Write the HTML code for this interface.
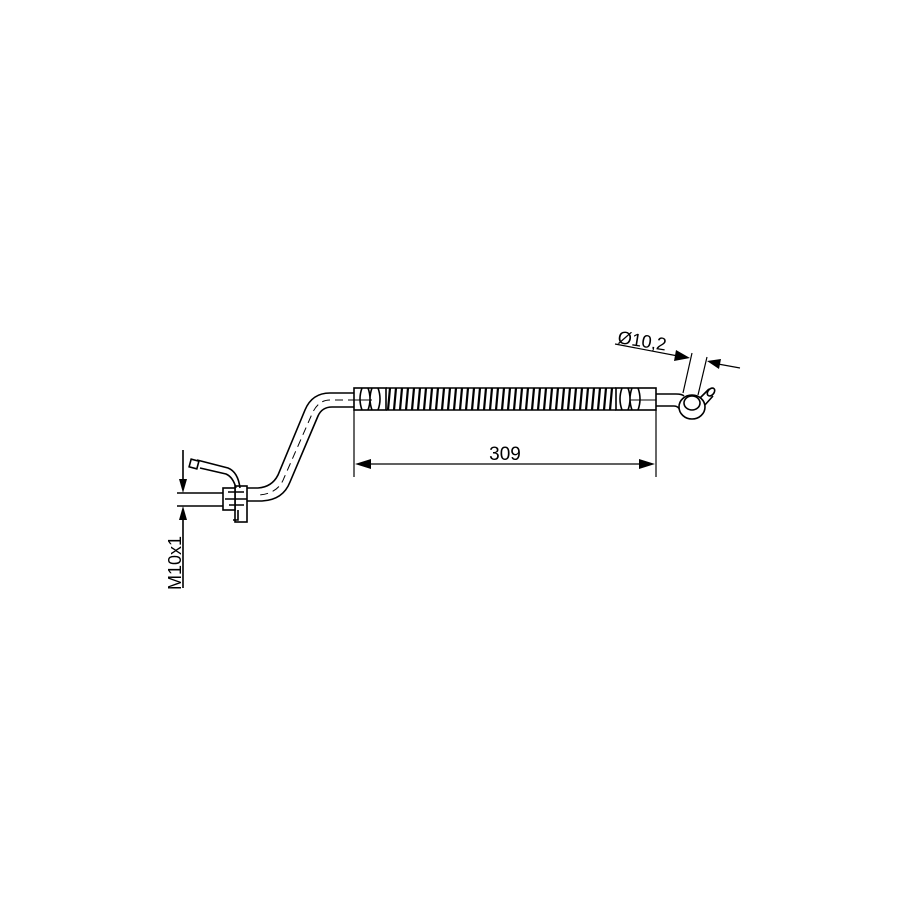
<!DOCTYPE html>
<html><head><meta charset="utf-8"><style>html,body{margin:0;padding:0;background:#fff}svg{display:block}</style></head>
<body>
<svg width="900" height="900" viewBox="0 0 900 900" xmlns="http://www.w3.org/2000/svg" font-family="Liberation Sans, sans-serif">
<rect width="900" height="900" fill="#fff"/>
<g fill="none" stroke="#000" stroke-width="1.6">
<path d="M356,393 L330,393 Q312,393 305,410 L278,475 Q272,487 258,488 L247,488"/>
<path d="M356,407 L332,407 Q322,407 318,416 L290,482 Q283,500 262,501 L247,501"/>
<path d="M356,400 L330,400 Q318,400 312,414 L284,478 Q278,494 258,495" stroke-width="1" stroke-dasharray="8,5"/>
<rect x="235" y="486" width="12" height="36" fill="#fff"/>
<rect x="223" y="488" width="12" height="22" fill="#fff"/>
<path d="M225,499 L247,499 M228,492 L244,492 M229,505 L244,505"/>
<path d="M238,510 L238,520 L233,520"/>
<path d="M197,460 L228,468 Q238,472 240,488"/>
<path d="M200,468 L226,474 Q233,477 236,488"/>
<rect x="190" y="460" width="8" height="8" transform="rotate(15 194 464)" fill="#fff"/>
<path d="M177,493 L223,493 M177,506 L223,506"/>
<path d="M183,450 L183,480 M183,520 L183,588"/>
</g>
<polygon points="183,493 179,479 187,479" fill="#000"/>
<polygon points="183,506 179,520 187,520" fill="#000"/>
<text x="0" y="0" font-size="18" transform="translate(181,590) rotate(-90)">M10x1</text>

<g fill="none" stroke="#000" stroke-width="1.6">
<rect x="354" y="388" width="32" height="22" fill="#fff"/>
<rect x="616" y="388" width="40" height="22" fill="#fff"/>
<path d="M362,388 Q358,399 362,410 M368,388 Q372,399 368,410 M372,388 Q368,399 372,410 M378,388 Q382,399 378,410"/>
<path d="M622,388 Q618,399 622,410 M628,388 Q632,399 628,410 M632,388 Q628,399 632,410 M638,388 Q642,399 638,410"/>
<path d="M354,400 L372,400 M630,400 L656,400" stroke-width="1"/>
<path d="M386,388 L616,388 M386,410 L616,410"/>
</g>
<g stroke="#000" stroke-width="2.2">
<path d="M390,388 L388,410 M396,388 L394,410 M402,388 L400,410 M408,388 L406,410 M414,388 L412,410 M420,388 L418,410 M426,388 L424,410 M432,388 L430,410 M438,388 L436,410 M444,388 L442,410 M450,388 L448,410 M456,388 L454,410 M462,388 L460,410 M468,388 L466,410 M474,388 L472,410 M480,388 L478,410 M486,388 L484,410 M492,388 L490,410 M498,388 L496,410 M504,388 L502,410 M510,388 L508,410 M516,388 L514,410 M522,388 L520,410 M528,388 L526,410 M534,388 L532,410 M540,388 L538,410 M546,388 L544,410 M552,388 L550,410 M558,388 L556,410 M564,388 L562,410 M570,388 L568,410 M576,388 L574,410 M582,388 L580,410 M588,388 L586,410 M594,388 L592,410 M600,388 L598,410 M606,388 L604,410 M612,388 L610,410"/>
</g>
<g fill="none" stroke="#000" stroke-width="1.6">
<path d="M656,394 L676,394 Q682,394 684,396 M656,406 L674,406 Q678,406 680,410"/>
<path d="M700,398 L709,389 M704,406 L713,396"/>
<ellipse cx="711" cy="392" rx="3" ry="4.5" transform="rotate(40 711 392)" fill="#fff"/>
<ellipse cx="692" cy="407" rx="13" ry="12" fill="#fff"/>
<ellipse cx="692" cy="403" rx="8" ry="7"/>
<path d="M692,353 L683,393 M707,357 L698,395" stroke-width="1.2"/>
<path d="M615,344 L678,356 M740,368 L718,364" stroke-width="1.2"/>
</g>
<polygon points="690,358 676,350 674,361" fill="#000"/>
<polygon points="707,361 721,359 719,369" fill="#000"/>
<text x="0" y="0" font-size="18" transform="translate(617,343) rotate(9)">Ø10,2</text>

<g stroke="#000" stroke-width="1.2" fill="none">
<path d="M354,410 L354,477 M656,410 L656,477 M368,464 L642,464"/>
</g>
<polygon points="355,464 371,459 371,469" fill="#000"/>
<polygon points="655,464 639,459 639,469" fill="#000"/>
<text x="505" y="460" font-size="19" text-anchor="middle">309</text>
</svg>
</body></html>
